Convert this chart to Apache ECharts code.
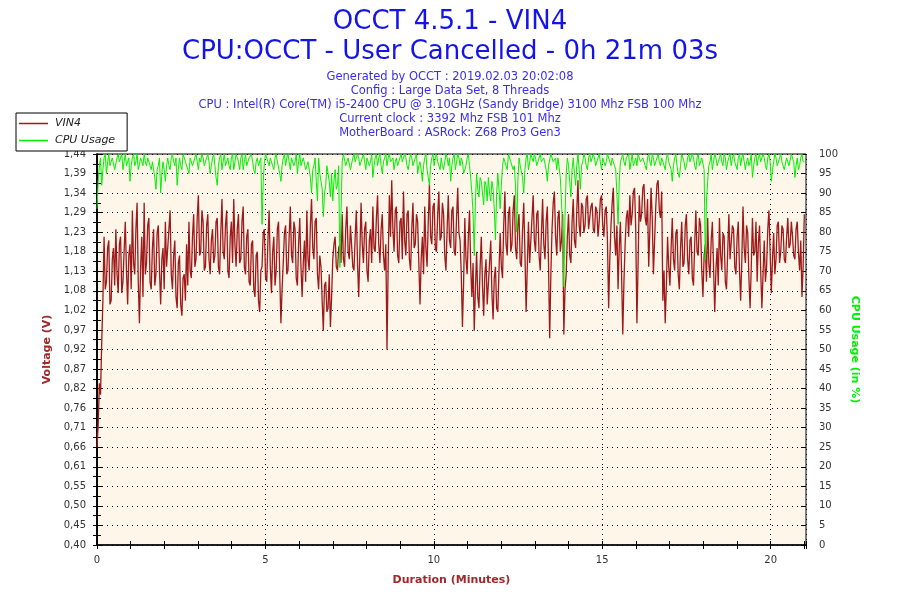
<!DOCTYPE html>
<html>
<head>
<meta charset="utf-8">
<script src="https://cdn.jsdelivr.net/npm/echarts@6/dist/echarts.min.js"></script>
<style>
  html, body { margin: 0; padding: 0; background: #fff; }
  #chart { width: 900px; height: 600px; }
</style>
</head>
<body>
<div id="chart"></div>
<script>
// one sample every 2.1 s (0.035 min)
const SAMPLE_MINUTES = 0.035;
const DURATION_MAX = 21.05;

const headerLines = [
  'Generated by OCCT : 2019.02.03 20:02:08',
  'Config : Large Data Set, 8 Threads',
  'CPU : Intel(R) Core(TM) i5-2400 CPU @ 3.10GHz (Sandy Bridge) 3100 Mhz FSB 100 Mhz',
  'Current clock : 3392 Mhz FSB 101 Mhz',
  'MotherBoard : ASRock: Z68 Pro3 Gen3'
];

const voltageTickLabels = [
  '0,40', '0,45', '0,50', '0,55', '0,61', '0,66', '0,71', '0,76', '0,82', '0,87', '0,92',
  '0,97', '1,02', '1,08', '1,13', '1,18', '1,23', '1,29', '1,34', '1,39', '1,44'
];

const vin4 = [
  0.66, 0.72, 0.83, 0.80, 0.94, 1.05, 1.22, 1.08, 1.10, 1.19, 1.21, 1.04, 1.05, 1.16, 1.19, 1.09, 1.24, 1.12, 1.07, 1.20,
  1.22, 1.07, 1.10, 1.18, 1.26, 1.13, 1.04, 1.17, 1.20, 1.08, 1.29, 1.15, 1.12, 1.24, 1.31, 1.10, 0.99, 1.14, 1.22, 1.06,
  1.31, 1.12, 1.15, 1.25, 1.27, 1.10, 1.08, 1.19, 1.24, 1.09, 1.12, 1.23, 1.25, 1.13, 1.04, 1.16, 1.19, 1.08, 1.26, 1.14,
  1.14, 1.24, 1.29, 1.12, 1.08, 1.17, 1.21, 1.06, 1.03, 1.15, 1.17, 1.04, 1.01, 1.11, 1.12, 1.05, 1.20, 1.09, 1.26, 1.13,
  1.11, 1.22, 1.28, 1.14, 1.16, 1.27, 1.33, 1.17, 1.18, 1.29, 1.26, 1.13, 1.14, 1.25, 1.28, 1.16, 1.12, 1.21, 1.24, 1.15,
  1.17, 1.26, 1.27, 1.14, 1.12, 1.23, 1.32, 1.18, 1.16, 1.25, 1.29, 1.13, 1.11, 1.22, 1.26, 1.15, 1.32, 1.20, 1.14, 1.24,
  1.28, 1.15, 1.16, 1.26, 1.30, 1.14, 1.12, 1.22, 1.24, 1.10, 1.09, 1.20, 1.21, 1.08, 1.06, 1.17, 1.18, 1.05, 1.02, 1.13,
  1.14, 1.23, 1.24, 1.11, 1.10, 1.21, 1.29, 1.14, 1.07, 1.18, 1.22, 1.09, 1.13, 1.24, 1.26, 1.12, 0.99, 1.08, 1.15, 1.23,
  1.25, 1.12, 1.13, 1.22, 1.30, 1.17, 1.15, 1.26, 1.24, 1.11, 1.09, 1.20, 1.27, 1.14, 1.06, 1.15, 1.21, 1.10, 1.29, 1.16,
  1.13, 1.25, 1.32, 1.19, 1.16, 1.26, 1.27, 1.12, 1.08, 1.17, 1.14, 1.05, 0.97, 1.09, 1.10, 1.02, 1.03, 1.12, 0.98, 1.06,
  1.16, 1.20, 1.22, 1.14, 1.13, 1.19, 1.20, 1.15, 1.28, 1.16, 1.14, 1.24, 1.30, 1.18, 1.16, 1.25, 1.25, 1.14, 1.13, 1.22,
  1.29, 1.15, 1.06, 1.18, 1.31, 1.20, 1.15, 1.24, 1.26, 1.13, 1.10, 1.21, 1.24, 1.15, 1.30, 1.19, 1.18, 1.27, 1.33, 1.20,
  1.15, 1.24, 1.28, 1.17, 1.13, 1.20, 0.92, 1.15, 1.33, 1.22, 1.37, 1.24, 1.18, 1.29, 1.30, 1.17, 1.15, 1.26, 1.27, 1.16,
  1.34, 1.21, 1.17, 1.28, 1.29, 1.16, 1.13, 1.24, 1.31, 1.19, 1.20, 1.28, 1.26, 1.15, 1.04, 1.16, 1.22, 1.12, 1.30, 1.19,
  1.14, 1.26, 1.36, 1.22, 1.20, 1.30, 1.31, 1.19, 1.18, 1.28, 1.34, 1.21, 1.22, 1.31, 1.28, 1.17, 1.13, 1.24, 1.33, 1.21,
  1.19, 1.29, 1.30, 1.18, 1.17, 1.27, 1.35, 1.23, 1.21, 1.12, 0.98, 1.10, 1.27, 1.16, 1.12, 1.22, 1.29, 1.14, 1.06, 1.15,
  0.97, 1.08, 1.18, 1.06, 1.03, 1.14, 1.22, 1.09, 1.01, 1.12, 1.16, 1.04, 1.04, 1.15, 1.21, 1.07, 1.00, 1.11, 1.14, 1.03,
  1.02, 1.13, 1.23, 1.14, 1.11, 1.25, 1.34, 1.20, 1.17, 1.28, 1.30, 1.18, 1.20, 1.29, 1.33, 1.19, 1.16, 1.25, 1.28, 1.15,
  1.14, 1.24, 1.31, 1.18, 1.02, 1.14, 1.26, 1.15, 1.15, 1.27, 1.33, 1.21, 1.18, 1.28, 1.29, 1.17, 1.13, 1.23, 1.32, 1.20,
  1.16, 1.26, 1.30, 1.15, 0.95, 1.12, 1.24, 1.31, 1.34, 1.22, 1.17, 1.27, 1.29, 1.18, 1.21, 1.28, 0.96, 1.08, 1.12, 1.22,
  1.28, 1.17, 1.15, 1.26, 1.32, 1.21, 1.19, 1.29, 1.37, 1.25, 1.22, 1.31, 1.30, 1.23, 1.25, 1.32, 1.33, 1.24, 1.24, 1.30,
  1.31, 1.24, 1.23, 1.30, 1.29, 1.22, 1.26, 1.32, 1.33, 1.25, 1.22, 1.29, 1.30, 1.21, 1.03, 1.16, 1.25, 1.31, 1.35, 1.22,
  1.17, 1.25, 1.08, 1.19, 1.26, 1.12, 0.96, 1.10, 1.20, 1.27, 1.29, 1.22, 1.33, 1.25, 1.28, 1.34, 1.35, 1.24, 0.99, 1.15,
  1.33, 1.26, 1.28, 1.35, 1.36, 1.27, 1.25, 1.32, 1.14, 1.24, 1.35, 1.27, 1.12, 1.21, 1.30, 1.36, 1.37, 1.29, 1.27, 1.34,
  1.05, 1.13, 0.99, 1.09, 1.22, 1.14, 1.09, 1.19, 1.27, 1.16, 1.13, 1.23, 1.24, 1.12, 1.08, 1.19, 1.26, 1.14, 1.15, 1.25,
  1.28, 1.16, 1.12, 1.21, 1.22, 1.11, 1.09, 1.20, 1.29, 1.18, 1.17, 1.27, 1.25, 1.13, 1.06, 1.17, 1.20, 1.10, 1.27, 1.15,
  1.11, 1.21, 1.26, 1.14, 1.02, 1.13, 1.19, 1.09, 1.27, 1.17, 1.13, 1.23, 1.22, 1.10, 1.08, 1.18, 1.28, 1.16, 1.16, 1.25,
  1.24, 1.14, 1.12, 1.22, 1.26, 1.13, 1.05, 1.16, 1.30, 1.19, 1.15, 1.25, 1.23, 1.11, 1.03, 1.14, 1.27, 1.17, 1.18, 1.26,
  1.10, 1.20, 1.25, 1.13, 1.03, 1.12, 1.21, 1.10, 1.14, 1.24, 1.29, 1.18, 1.07, 1.16, 1.23, 1.12, 1.16, 1.25, 1.26, 1.15,
  1.18, 1.25, 1.24, 1.16, 1.15, 1.22, 1.27, 1.19, 1.20, 1.26, 1.22, 1.17, 1.16, 1.24, 1.26, 1.18, 1.13, 1.21, 1.06, 1.14,
  1.28
];

const cpuUsage = [
  86, 93, 97, 99, 92, 96, 99, 100, 95, 98, 100, 97, 97, 99, 99, 96, 96, 99, 100, 98,
  98, 100, 96, 98, 100, 97, 97, 99, 93, 97, 99, 100, 97, 98, 100, 96, 96, 99, 99, 97,
  100, 98, 97, 99, 99, 97, 96, 98, 98, 94, 91, 96, 97, 99, 90, 95, 98, 96, 93, 97,
  99, 97, 96, 99, 100, 98, 97, 99, 92, 96, 99, 97, 96, 100, 100, 98, 98, 96, 95, 99,
  99, 97, 97, 99, 100, 98, 96, 99, 98, 100, 99, 97, 97, 99, 100, 98, 95, 97, 99, 100,
  97, 94, 92, 97, 99, 100, 96, 98, 100, 97, 98, 99, 97, 96, 99, 100, 96, 98, 100, 99,
  98, 96, 99, 100, 96, 98, 100, 97, 97, 99, 99, 100, 98, 96, 95, 98, 99, 97, 97, 99,
  82, 93, 98, 100, 100, 98, 97, 99, 99, 97, 96, 99, 100, 98, 98, 95, 93, 97, 99, 100,
  97, 99, 100, 98, 96, 99, 99, 97, 98, 100, 95, 98, 100, 97, 97, 99, 99, 96, 96, 98,
  98, 94, 90, 96, 97, 99, 93, 88, 99, 95, 95, 91, 84, 90, 92, 97, 97, 93, 89, 95,
  88, 93, 96, 91, 92, 97, 71, 85, 98, 100, 100, 97, 97, 99, 99, 96, 96, 99, 100, 98,
  98, 100, 99, 97, 97, 99, 100, 98, 96, 99, 99, 97, 98, 100, 94, 97, 99, 100, 97, 99,
  100, 97, 95, 98, 99, 100, 97, 99, 100, 98, 98, 99, 96, 98, 99, 97, 97, 99, 100, 98,
  98, 100, 99, 97, 96, 98, 100, 99, 97, 98, 99, 100, 95, 97, 98, 96, 93, 97, 99, 100,
  96, 94, 92, 97, 99, 100, 97, 99, 100, 98, 98, 96, 99, 97, 96, 98, 100, 99, 97, 99,
  93, 97, 99, 100, 96, 98, 100, 99, 97, 99, 98, 95, 95, 97, 99, 100, 97, 94, 90, 85,
  74, 88, 95, 91, 89, 94, 93, 90, 87, 93, 92, 88, 94, 90, 88, 93, 91, 86, 78, 90,
  95, 91, 86, 92, 97, 99, 99, 97, 96, 100, 100, 98, 98, 96, 97, 92, 80, 93, 99, 97,
  97, 94, 90, 96, 99, 100, 96, 98, 100, 99, 98, 100, 99, 97, 97, 99, 100, 98, 98, 99,
  99, 96, 93, 97, 97, 100, 100, 98, 98, 99, 96, 99, 99, 94, 88, 80, 66, 84, 95, 99,
  97, 93, 89, 96, 99, 95, 92, 97, 100, 96, 91, 97, 98, 100, 99, 97, 96, 99, 100, 98,
  98, 100, 99, 97, 97, 99, 100, 98, 96, 99, 99, 97, 98, 100, 100, 98, 97, 99, 99, 97,
  96, 90, 82, 93, 98, 99, 100, 98, 97, 99, 99, 100, 96, 98, 100, 97, 98, 99, 97, 100,
  100, 98, 98, 99, 99, 97, 96, 99, 100, 98, 97, 100, 99, 97, 98, 99, 100, 98, 97, 99,
  99, 97, 96, 99, 100, 98, 98, 96, 93, 97, 99, 100, 97, 95, 94, 97, 100, 99, 98, 96,
  97, 99, 100, 98, 98, 100, 99, 97, 96, 99, 100, 97, 97, 99, 99, 96, 73, 88, 93, 97,
  98, 100, 96, 98, 100, 99, 97, 98, 99, 100, 98, 97, 100, 99, 96, 98, 99, 100, 97, 99,
  100, 98, 98, 96, 99, 100, 97, 99, 100, 98, 96, 98, 99, 97, 98, 100, 94, 97, 99, 100,
  97, 99, 100, 98, 98, 100, 99, 97, 96, 99, 100, 98, 93, 96, 98, 100, 99, 97, 97, 99,
  100, 98, 98, 96, 96, 99, 99, 97, 97, 100, 100, 98, 94, 97, 99, 96, 97, 99, 100, 98,
  98
];

const FONT = 'DejaVu Sans';
const TITLE_BLUE = '#1414e8';
const RED = '#9e1a1a';
const GREEN = '#00f000';
const NAME_RED = '#a0282a';

function withTime(values) {
  return values.map(function (v, i) {
    return [+(i * SAMPLE_MINUTES).toFixed(3), v];
  });
}

var titles = [
  { text: 'OCCT 4.5.1 - VIN4', top: 9, size: 26 },
  { text: 'CPU:OCCT - User Cancelled - 0h 21m 03s', top: 39, size: 26 }
];
headerLines.forEach(function (line, i) {
  titles.push({ text: line, top: 71 + i * 14, size: 11.5 });
});

var chart = echarts.init(document.getElementById('chart'));
chart.setOption({
  animation: false,
  backgroundColor: '#fff',
  title: titles.map(function (t) {
    return {
      text: t.text,
      left: 'center',
      top: t.top,
      padding: 0,
      textStyle: {
        fontFamily: FONT,
        fontSize: t.size,
        fontWeight: 'normal',
        color: t.size > 20 ? TITLE_BLUE : '#3a2cf5'
      }
    };
  }),
  legend: {
    orient: 'vertical',
    left: 16,
    top: 113,
    padding: [5, 12, 5, 3],
    itemGap: 6,
    itemWidth: 29,
    itemHeight: 1.5,
    icon: 'rect',
    backgroundColor: '#fff',
    borderColor: '#000',
    borderWidth: 1,
    textStyle: { fontFamily: FONT, fontSize: 11, fontStyle: 'italic', color: '#222', padding: [0, 0, 0, 2] },
    data: ['VIN4', 'CPU Usage']
  },
  grid: {
    left: 97,
    right: 94,
    top: 154,
    bottom: 55,
    show: true,
    backgroundColor: '#fdf6e9',
    borderColor: '#000',
    borderWidth: 1
  },
  xAxis: [
    {
      type: 'value',
      min: 0,
      max: DURATION_MAX,
      interval: 5,
      name: 'Duration (Minutes)',
      nameLocation: 'middle',
      nameGap: 30,
      nameTextStyle: { fontFamily: FONT, fontSize: 11, fontWeight: 'bold', color: NAME_RED },
      axisLine: { lineStyle: { color: '#000', width: 1.5 } },
      axisTick: { length: 4, lineStyle: { color: '#000' } },
      minorTick: { show: true, splitNumber: 5, length: 4, lineStyle: { color: '#000' } },
      axisLabel: {
        margin: 10,
        fontFamily: FONT,
        fontSize: 10,
        color: '#333',
        showMaxLabel: false,
        formatter: function (v) { return v % 5 === 0 ? String(v) : ''; }
      },
      splitLine: { show: true, lineStyle: { color: '#000', type: [1, 4], width: 1 } }
    },
    {
      // inner half of the crossing ticks
      type: 'value',
      min: 0,
      max: DURATION_MAX,
      interval: 5,
      position: 'bottom',
      axisLine: { show: false },
      axisTick: { inside: true, length: 4, lineStyle: { color: '#000' } },
      minorTick: { show: true, splitNumber: 5, length: 4, lineStyle: { color: '#000' } },
      axisLabel: { show: false },
      splitLine: { show: false }
    }
  ],
  yAxis: [
    {
      type: 'value',
      position: 'left',
      min: 0.4,
      max: 1.44,
      interval: 0.052,
      name: 'Voltage (V)',
      nameLocation: 'middle',
      nameGap: 38,
      nameTextStyle: { fontFamily: FONT, fontSize: 11, fontWeight: 'bold', color: NAME_RED },
      axisLine: { show: true, lineStyle: { color: '#000', width: 1.5 } },
      axisTick: { show: true, length: 4, lineStyle: { color: '#000' } },
      minorTick: { show: true, splitNumber: 2, length: 4, lineStyle: { color: '#000' } },
      axisLabel: {
        margin: 11,
        fontFamily: FONT,
        fontSize: 10,
        color: '#333',
        formatter: function (v) { return voltageTickLabels[Math.round((v - 0.4) / 0.052)]; }
      },
      splitLine: { show: true, lineStyle: { color: '#000', type: [1, 4], width: 1 } }
    },
    {
      type: 'value',
      position: 'right',
      min: 0,
      max: 100,
      interval: 5,
      name: 'CPU Usage (in %)',
      nameLocation: 'middle',
      nameGap: 34,
      nameRotate: -90,
      nameTextStyle: { fontFamily: FONT, fontSize: 11, fontWeight: 'bold', color: GREEN },
      axisLine: { show: true, lineStyle: { color: '#000', width: 1.5 } },
      axisTick: { show: true, length: 4, lineStyle: { color: '#000' } },
      minorTick: { show: true, splitNumber: 2, length: 4, lineStyle: { color: '#000' } },
      axisLabel: { margin: 13, fontFamily: FONT, fontSize: 10, color: '#333' },
      splitLine: { show: false }
    },
    {
      type: 'value',
      position: 'left',
      min: 0.4,
      max: 1.44,
      interval: 0.052,
      axisLine: { show: false },
      axisTick: { show: true, inside: true, length: 5, lineStyle: { color: '#000' } },
      axisLabel: { show: false },
      splitLine: { show: false }
    },
    {
      type: 'value',
      position: 'right',
      min: 0,
      max: 100,
      interval: 5,
      axisLine: { show: false },
      axisTick: { show: true, inside: true, length: 5, lineStyle: { color: '#000' } },
      axisLabel: { show: false },
      splitLine: { show: false }
    }
  ],
  series: [
    {
      name: 'VIN4',
      type: 'line',
      xAxisIndex: 0,
      yAxisIndex: 0,
      symbol: 'none',
      color: RED,
      lineStyle: { width: 1.3, color: RED },
      data: withTime(vin4)
    },
    {
      name: 'CPU Usage',
      type: 'line',
      xAxisIndex: 0,
      yAxisIndex: 1,
      symbol: 'none',
      color: GREEN,
      lineStyle: { width: 1, color: GREEN },
      data: withTime(cpuUsage)
    }
  ]
});
</script>
</body>
</html>
